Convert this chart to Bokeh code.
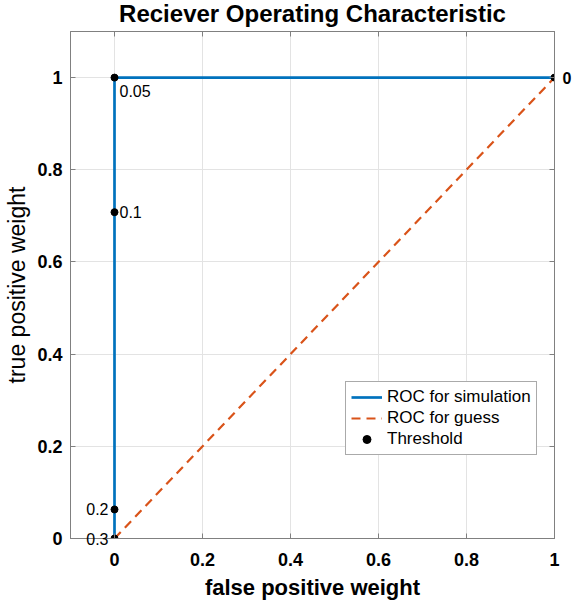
from bokeh.plotting import figure
from bokeh.models import (LinearAxis, FixedTicker, NumeralTickFormatter, Range1d,
                          Label, Legend, LegendItem, CustomJSTickFormatter)
from bokeh.embed import file_html
from bokeh.resources import INLINE

# data
fpr = [1.0, 0.0, 0.0, 0.0, 0.0]
tpr = [1.0, 1.0, 0.708, 0.063, 0.0]
thresholds = ["0", "0.05", "0.1", "0.2", "0.3"]
guess_x = [0.0, 1.0]
guess_y = [0.0, 1.0]
ticks = [0, 0.2, 0.4, 0.6, 0.8, 1]
title_text = "Reciever Operating Characteristic"

FONT = "Liberation Sans"
BLUE = "#0072BD"
ORANGE = "#D95319"
AX = "#808080"
X0, X1, Y0, Y1 = -0.1, 1.0, 0.0, 1.1

p = figure(output_backend="svg", toolbar_location=None,
           x_range=Range1d(X0, X1), y_range=Range1d(Y0, Y1),
           frame_width=484, frame_height=507,
           min_border_left=70, min_border_right=20, min_border_top=31, min_border_bottom=68)
p.outline_line_color = AX
p.outline_line_width = 1
p.background_fill_color = "white"
p.border_fill_color = "white"

for ax in [p.xaxis[0], p.yaxis[0]]:
    ax.ticker = FixedTicker(ticks=ticks)
    ax.formatter = NumeralTickFormatter(format="0.[0]")
    ax.major_tick_in = 5
    ax.major_tick_out = 0
    ax.minor_tick_in = 0
    ax.minor_tick_out = 0
    ax.axis_line_color = AX
    ax.major_tick_line_color = AX
    ax.major_label_text_font = FONT
    ax.major_label_text_font_size = "18px"
    ax.major_label_text_font_style = "bold"
    ax.major_label_text_color = "#000000"
    ax.axis_label_text_font = FONT
    ax.axis_label_text_color = "#000000"
p.xaxis.axis_label = "false positive weight"
p.yaxis.axis_label = "true positive weight"
p.xaxis.axis_label_text_font_size = "22px"
p.xaxis.axis_label_text_font_style = "bold"
p.yaxis.axis_label_text_font_size = "23px"
p.yaxis.axis_label_text_font_style = "normal"
p.xaxis.major_label_standoff = 14
p.yaxis.major_label_standoff = 8
p.xaxis.axis_label_standoff = 6
p.yaxis.axis_label_standoff = 4

for loc in ["above", "right"]:
    a = LinearAxis(ticker=FixedTicker(ticks=ticks), major_tick_in=5, major_tick_out=0,
                   minor_tick_in=0, minor_tick_out=0, axis_line_color=AX,
                   major_tick_line_color=AX,
                   formatter=CustomJSTickFormatter(code="return ''"),
                   major_label_standoff=0)
    p.add_layout(a, loc)

p.grid.ticker = FixedTicker(ticks=ticks)
p.grid.grid_line_color = "#e3e3e3"
p.grid.grid_line_width = 1

sim = p.line(fpr, tpr, line_color=BLUE, line_width=2.7)
guess = p.line(guess_x, guess_y, line_color=ORANGE, line_width=2.2, line_dash="9 6")
pts = p.scatter(fpr, tpr, size=7, color="black")

# threshold labels (placed in a side panel so they are not clipped by the frame)
offsets = {
    "0": dict(x_offset=8, y_offset=0, text_align="left", text_baseline="middle",
              text_font_style="bold", text_font_size="16px"),
    "0.05": dict(x_offset=5, y_offset=-7, text_align="left", text_baseline="top"),
    "0.1": dict(x_offset=5, y_offset=0, text_align="left", text_baseline="middle"),
    "0.2": dict(x_offset=-6, y_offset=0, text_align="right", text_baseline="middle"),
    "0.3": dict(x_offset=-6, y_offset=0, text_align="right", text_baseline="middle"),
}
for xv, yv, t in zip(fpr, tpr, thresholds):
    kw = dict(text_font=FONT, text_font_size="16px", text_color="#000000")
    kw.update(offsets[t])
    p.add_layout(Label(x=xv, y=yv, text=t, **kw), "right")

# title, centred over the frame, 18px above its top edge
p.add_layout(Label(x=(X0 + X1) / 2, y=Y1, y_offset=18, text=title_text,
                   text_font=FONT, text_font_size="24px", text_font_style="bold",
                   text_color="#000000", text_align="center", text_baseline="middle"),
             "above")

legend = Legend(items=[LegendItem(label="ROC for simulation", renderers=[sim]),
                       LegendItem(label="ROC for guess", renderers=[guess]),
                       LegendItem(label="Threshold", renderers=[pts])],
                location=(275, 83), label_text_font=FONT, label_text_font_size="17px",
                label_text_color="#000000", border_line_color="#555555", border_line_width=1,
                background_fill_color="white", background_fill_alpha=1.0,
                glyph_width=31, glyph_height=20, label_height=20, spacing=1,
                padding=5, margin=0, label_standoff=5)
p.add_layout(legend, "center")

open("out.html", "w").write(file_html(p, INLINE))
